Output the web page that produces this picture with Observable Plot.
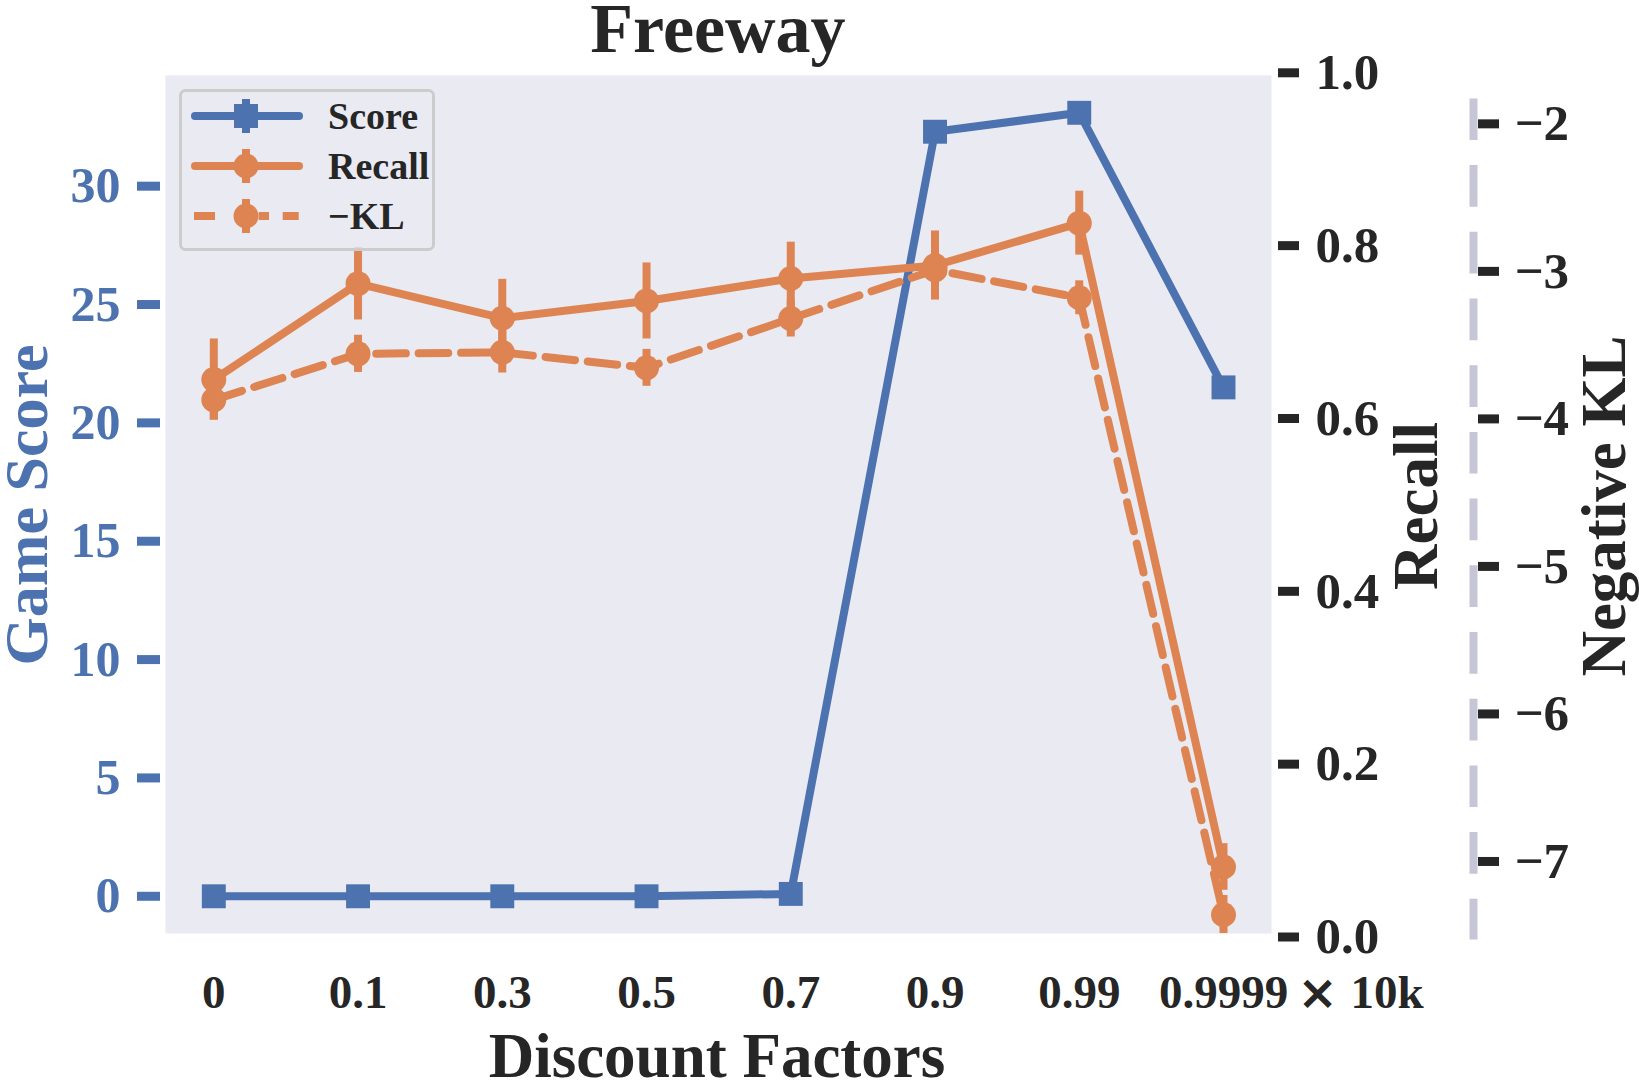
<!DOCTYPE html>
<html><head><meta charset="utf-8">
<script src="https://cdn.jsdelivr.net/npm/d3@7"></script>
<script src="https://cdn.jsdelivr.net/npm/@observablehq/plot@0.6"></script>
<style>html,body{margin:0;padding:0;background:#fff;} svg{display:block}</style>
</head><body><div id="chart"></div>
<script>
// ---------- data ----------
const discountLabels = ["0", "0.1", "0.3", "0.5", "0.7", "0.9", "0.99", "0.9999"];
const gameScore = [0, 0, 0, 0, 0.1, 32.3, 33.1, 21.5];
const recallMean = [0.645, 0.756, 0.716, 0.736, 0.762, 0.777, 0.826, 0.081];
const recallStd = [0.047, 0.042, 0.045, 0.044, 0.042, 0.040, 0.037, 0.027];
const negKLMean = [-3.871, -3.559, -3.549, -3.654, -3.320, -2.990, -3.179, -7.361];
const negKLStd = [0.136, 0.126, 0.14, 0.125, 0.125, 0.2, 0.115, 0.13];
const scoreTicks = [0, 5, 10, 15, 20, 25, 30];
const recallTicks = [0, 0.2, 0.4, 0.6, 0.8, 1.0];
const klTicks = [-2, -3, -4, -5, -6, -7];
const xSuffix = "10k";

// ---------- axis domains (twin axes share the plot frame) ----------
const scoreDomain = [-1.72, 34.79];
const klDomain = [-7.512, -1.654];
const klSpineExtent = [-1.831, -7.532];

const BLUE = "#4C72B0", ORANGE = "#DD8452", DARK = "#262626";
const SERIF = "'Liberation Serif', 'Times New Roman', serif";

const sToY = s => (s - scoreDomain[0]) / (scoreDomain[1] - scoreDomain[0]);
const yToS = y => scoreDomain[0] + y * (scoreDomain[1] - scoreDomain[0]);
const kToY = k => (k - klDomain[0]) / (klDomain[1] - klDomain[0]);
const yToK = y => klDomain[0] + y * (klDomain[1] - klDomain[0]);

const rows = discountLabels.map((label, i) => ({
  i, label,
  score: gameScore[i],
  recall: recallMean[i], recallLo: recallMean[i] - recallStd[i], recallHi: recallMean[i] + recallStd[i],
  kl: negKLMean[i], klLo: negKLMean[i] - negKLStd[i], klHi: negKLMean[i] + negKLStd[i]
}));

const svg = Plot.plot({
  width: 1639, height: 1089,
  marginLeft: 165, marginRight: 368, marginTop: 75, marginBottom: 156,
  x: {type: "linear", domain: [0, 7], range: [213.3, 1223]},
  y: {type: "linear", domain: [0, 1], range: [936.5, 72.3]},
  style: {fontFamily: SERIF, fontWeight: "bold", color: DARK, background: "#fff", overflow: "visible"},
  marks: [
    Plot.frame({fill: "#EAEAF2", stroke: "none"}),
    // Score
    Plot.line(rows, {x: "i", y: d => sToY(d.score), stroke: BLUE, strokeWidth: 8, strokeLinejoin: "round", clip: true}),
    Plot.dot(rows, {x: "i", y: d => sToY(d.score), symbol: "square", r: 13.5, fill: BLUE, stroke: "none", clip: true}),
    // Recall
    Plot.line(rows, {x: "i", y: "recall", stroke: ORANGE, strokeWidth: 8, strokeLinejoin: "round", clip: true}),
    Plot.ruleX(rows, {x: "i", y1: "recallLo", y2: "recallHi", stroke: ORANGE, strokeWidth: 8, clip: true}),
    Plot.dot(rows, {x: "i", y: "recall", r: 12.5, fill: ORANGE, stroke: "none", clip: true}),
    // -KL
    Plot.line(rows, {x: "i", y: d => kToY(d.kl), stroke: ORANGE, strokeWidth: 8, strokeDasharray: "29.6,12.8", strokeLinejoin: "round", clip: true}),
    Plot.ruleX(rows, {x: "i", y1: d => kToY(d.klLo), y2: d => kToY(d.klHi), stroke: ORANGE, strokeWidth: 8, clip: true}),
    Plot.dot(rows, {x: "i", y: d => kToY(d.kl), r: 12.5, fill: ORANGE, stroke: "none", clip: true}),
    // Left axis (Game Score)
    Plot.axisY({anchor: "left", ticks: scoreTicks.map(sToY), tickFormat: y => String(Math.round(yToS(y))),
      tickSize: 23, tickPadding: 17, dx: -5, strokeWidth: 9, fontSize: 50, color: BLUE, label: null}),
    // Right axis (Recall)
    Plot.axisY({anchor: "right", ticks: recallTicks, tickFormat: d3.format(".1f"),
      tickSize: 21, tickPadding: 17, dx: 6, strokeWidth: 9, fontSize: 51, color: DARK, label: null}),
    // Third axis (Negative KL)
    Plot.ruleX([7], {x: d => d, dx: 250, y1: () => kToY(klSpineExtent[0]), y2: () => kToY(klSpineExtent[1]),
      stroke: "#C6C6D6", strokeWidth: 8, strokeDasharray: "41.7,25"}),
    Plot.axisY({anchor: "right", ticks: klTicks.map(kToY), tickFormat: y => "\u2212" + Math.round(-yToK(y)),
      tickSize: 21, tickPadding: 16, dx: 206, strokeWidth: 9, fontSize: 51, color: DARK, label: null}),
    // X axis
    Plot.axisX({anchor: "bottom", ticks: d3.range(discountLabels.length), tickFormat: i => discountLabels[i],
      tickSize: 0, tickPadding: 41, fontSize: 47, color: DARK, label: null}),
    Plot.text([7], {x: d => d, frameAnchor: "bottom", lineAnchor: "top", dy: 41, dx: 94, text: () => "\u00D7",
      fontSize: 48, fontFamily: "DejaVu Sans", textAnchor: "middle", fill: DARK}),
    Plot.text([7], {x: d => d, frameAnchor: "bottom", lineAnchor: "top", dy: 41, dx: 127, text: () => xSuffix,
      fontSize: 47, textAnchor: "start", fill: DARK})
  ]
});
document.getElementById("chart").appendChild(svg);

// ---------- titles, axis labels, legend ----------
const s = d3.select(svg);
s.append("text").attr("x", 718).attr("y", 52).attr("text-anchor", "middle")
  .attr("font-size", 70).attr("font-weight", "bold").attr("fill", DARK).text("Freeway");
s.append("text").attr("x", 717).attr("y", 1077).attr("text-anchor", "middle")
  .attr("font-size", 63).attr("font-weight", "bold").attr("fill", DARK).text("Discount Factors");
s.append("text").attr("transform", "translate(47,505) rotate(-90)").attr("text-anchor", "middle")
  .attr("font-size", 62).attr("font-weight", "bold").attr("fill", BLUE).text("Game Score");
s.append("text").attr("transform", "translate(1437,506) rotate(-90)").attr("text-anchor", "middle")
  .attr("font-size", 63).attr("font-weight", "bold").attr("fill", DARK).text("Recall");
s.append("text").attr("transform", "translate(1625,506) rotate(-90)").attr("text-anchor", "middle")
  .attr("font-size", 63).attr("font-weight", "bold").attr("fill", DARK).text("Negative KL");

const lg = s.append("g");
lg.append("rect").attr("x", 180.5).attr("y", 90.5).attr("width", 253).attr("height", 159).attr("rx", 5)
  .attr("fill", "#EAEAF2").attr("fill-opacity", 0.8).attr("stroke", "#CCCCCC").attr("stroke-width", 3);
const legendItems = [
  {name: "Score", color: BLUE, dash: null, marker: "square"},
  {name: "Recall", color: ORANGE, dash: null, marker: "circle"},
  {name: "\u2212KL", color: ORANGE, dash: "21,43.7,10.3,13.7,16", marker: "circle"}
];
legendItems.forEach((it, k) => {
  const cy = 116 + k * 50;
  if (it.dash) {
    lg.append("line").attr("x1", 194).attr("x2", 299).attr("y1", cy).attr("y2", cy)
      .attr("stroke", it.color).attr("stroke-width", 8).attr("stroke-dasharray", it.dash);
  } else {
    lg.append("line").attr("x1", 195).attr("x2", 299).attr("y1", cy).attr("y2", cy)
      .attr("stroke", it.color).attr("stroke-width", 8).attr("stroke-linecap", "round");
  }
  lg.append("line").attr("x1", 246).attr("x2", 246).attr("y1", cy - 17).attr("y2", cy + 17)
    .attr("stroke", it.color).attr("stroke-width", 8);
  if (it.marker === "square") {
    lg.append("rect").attr("x", 234).attr("y", cy - 12).attr("width", 24).attr("height", 24).attr("fill", it.color);
  } else {
    lg.append("circle").attr("cx", 246).attr("cy", cy).attr("r", 12.5).attr("fill", it.color);
  }
  lg.append("text").attr("x", 328).attr("y", cy + 13.3).attr("text-anchor", "start")
    .attr("font-size", 38).attr("font-weight", "bold").attr("fill", DARK).text(it.name);
});
</script>
</body></html>
